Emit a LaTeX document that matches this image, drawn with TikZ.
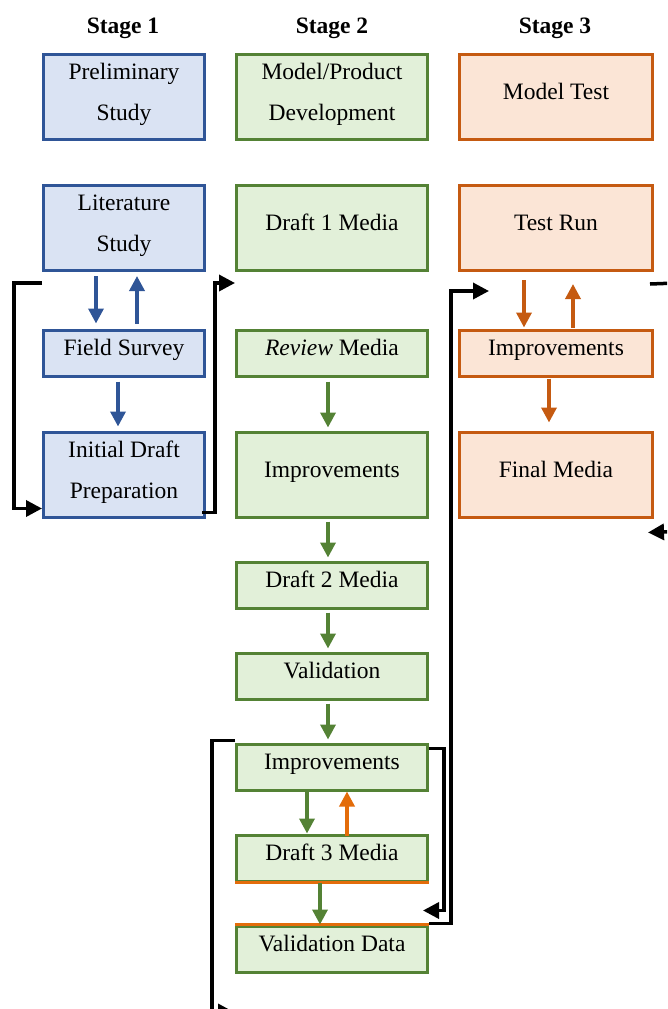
\documentclass[tikz,border=0pt]{standalone}
\usepackage{fontspec}
\setmainfont{Liberation Serif}
\usetikzlibrary{arrows.meta,calc}
\definecolor{bline}{HTML}{2F5597}
\definecolor{bfill}{HTML}{DAE3F3}
\definecolor{gline}{HTML}{548235}
\definecolor{gfill}{HTML}{E2F0D9}
\definecolor{oline}{HTML}{C55A11}
\definecolor{ofill}{HTML}{FBE5D6}
\definecolor{obright}{HTML}{E36C0A}
\begin{document}
\begin{tikzpicture}[x=1pt,y=-1pt,
  box/.style={draw, line width=3pt, inner sep=0pt, align=center,
    font=\fontsize{23.5}{41}\selectfont, text height=16pt, text depth=11pt},
  twoline/.style={text height=57pt, text depth=10pt},
  s1/.style={box, draw=bline, fill=bfill, minimum width=161pt},
  s2/.style={box, draw=gline, fill=gfill, minimum width=191pt},
  s3/.style={box, draw=oline, fill=ofill, minimum width=193pt},
  tall/.style={minimum height=85pt},
  short/.style={minimum height=46pt},
  hdr/.style={font=\fontsize{23.5}{28}\selectfont\bfseries, inner sep=0pt, anchor=base},
  tipc/.style={-{Triangle[length=15pt,width=15pt]}},
  barr/.style={tipc, draw=bline, line width=3.5pt},
  garr/.style={tipc, draw=gline, line width=3.5pt},
  oarr/.style={tipc, draw=oline, line width=3.5pt},
  oarrb/.style={tipc, draw=obright, line width=3.5pt},
  blk/.style={-{Triangle[length=16pt,width=16pt]}, draw=black, line width=3.5pt}]
\useasboundingbox (0,0) rectangle (667,1009);
\clip (0,0) rectangle (667,1009);

% headers
\node[hdr] (h1) at (123,33) {Stage 1};
\node[hdr] (h2) at (332,33) {Stage 2};
\node[hdr] (h3) at (555,33) {Stage 3};

% stage 1
\node[s1,tall,twoline] (pre) at (124,96.5) {Preliminary\\Study};
\node[s1,tall,twoline] (lit) at (124,228) {Literature\\Study};
\node[s1,short] (fs) at (124,353) {Field Survey};
\node[s1,tall,twoline] (idp) at (124,474.5) {Initial Draft\\Preparation};

% stage 2
\node[s2,tall,twoline] (mpd) at (332,96.5) {Model/Product\\Development};
\node[s2,tall] (d1) at (332,228) {Draft 1 Media};
\node[s2,short] (rev) at (332,353) {\textit{Review} Media};
\node[s2,tall] (imp1) at (332,474.5) {Improvements};
\node[s2,short] (d2) at (332,585) {Draft 2 Media};
\node[s2,short] (val) at (332,676) {Validation};
\node[s2,short] (imp2) at (332,767) {Improvements};
\node[s2,short] (d3) at (332,858) {Draft 3 Media};
\node[s2,short] (vd) at (332,949) {Validation Data};
\draw[obright, line width=3pt] (d3.south west) -- (d3.south east);
\draw[obright, line width=3pt] (vd.north west) -- (vd.north east);

% stage 3
\node[s3,tall] (mt) at (556,96.5) {Model Test};
\node[s3,tall] (tr) at (556,228) {Test Run};
\node[s3,short] (imp3) at (556,353) {Improvements};
\node[s3,tall] (fm) at (556,474.5) {Final Media};

% stage 1 arrows
\draw[barr] ($(lit.south)+(-28,4)$) -- ($(fs.north)+(-28,-5)$);
\draw[barr] ($(fs.north)+(13,-5)$) -- ($(lit.south)+(13,4)$);
\draw[barr] ($(fs.south)+(-6,4)$) -- ($(idp.north)+(-6,-4)$);

% stage 2 arrows
\draw[garr] ($(rev.south)+(-4,4)$) -- ($(imp1.north)+(-4,-3)$);
\draw[garr] ($(imp1.south)+(-4,3)$) -- ($(d2.north)+(-4,-3)$);
\draw[garr] ($(d2.south)+(-4,3)$) -- ($(val.north)+(-4,-3)$);
\draw[garr] ($(val.south)+(-4,3)$) -- ($(imp2.north)+(-4,-3)$);
\draw[garr] ($(imp2.south)+(-25,0)$) -- ($(d3.north)+(-25,0)$);
\draw[oarrb] ($(d3.north)+(15,2)$) -- ($(imp2.south)+(15,0)$);
\draw[garr] ($(d3.south)+(-12,0)$) -- ($(vd.north)+(-12,0)$);

% stage 3 arrows
\draw[oarr] ($(tr.south)+(-32,8)$) -- ($(imp3.north)+(-32,-1)$);
\draw[oarr] ($(imp3.north)+(17,-1)$) -- ($(tr.south)+(17,12)$);
\draw[oarr] ($(imp3.south)+(-7,1)$) -- ($(fm.north)+(-7,-8)$);

% black connectors
\coordinate (offR1) at (690,282.5);
\coordinate (offR2) at (690,531);
\coordinate (offB) at (234,1012);
\draw[blk] ($(lit.south west)+(0,11)$) -- ++(-28,0) |- ($(idp.south west)+(0,-10)$);
\draw[blk] ($(idp.south east)+(-4,-6)$) -- ++(13,0) |- ($(d1.south west)+(0,11)$);
\draw[blk] ($(imp2.north east)+(0,6)$) -- ++(15,0) |- ($(vd.north east)+(-6,-14)$);
\draw[blk] ($(vd.north east)+(0,-1)$) -- ++(22,0) |- ($(tr.south west)+(31,19)$);
\draw[blk, -] ($(tr.south east)+(-4,12)$) -- (offR1);
\draw[blk] (offR2) -- ($(fm.south east)+(-6,14)$);
\draw[blk] ($(imp2.north west)+(0,-2)$) -- ++(-23,0) |- (offB);
\end{tikzpicture}
\end{document}
